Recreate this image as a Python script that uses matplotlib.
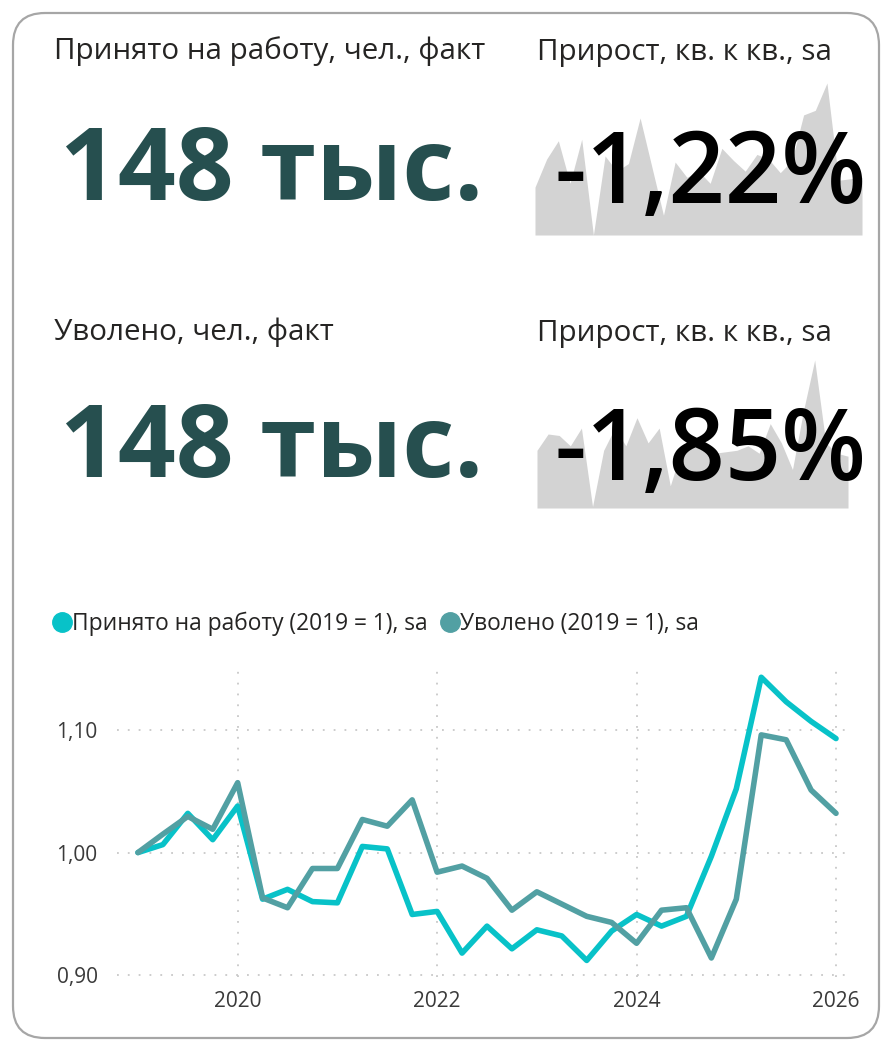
import numpy as np
import matplotlib
matplotlib.use("Agg")
import matplotlib.pyplot as plt
from matplotlib.patches import FancyBboxPatch
from matplotlib.lines import Line2D
from matplotlib.transforms import IdentityTransform

plt.rcParams['font.family'] = ['Open Sans', 'DejaVu Sans']

W, H = 881, 1040

# quarterly index, 2019 = 1
quarters = ['2019Q1', '2019Q2', '2019Q3', '2019Q4', '2020Q1', '2020Q2', '2020Q3', '2020Q4',
            '2021Q1', '2021Q2', '2021Q3', '2021Q4', '2022Q1', '2022Q2', '2022Q3', '2022Q4',
            '2023Q1', '2023Q2', '2023Q3', '2023Q4', '2024Q1', '2024Q2', '2024Q3', '2024Q4',
            '2025Q1', '2025Q2', '2025Q3', '2025Q4', '2026Q1']
hired = [1.000, 1.0065, 1.032, 1.0105, 1.038, 0.962, 0.970, 0.960,
         0.959, 1.005, 1.003, 0.9495, 0.952, 0.918, 0.940, 0.9215,
         0.937, 0.932, 0.912, 0.936, 0.9495, 0.940, 0.948, 0.997,
         1.052, 1.143, 1.123, 1.107, 1.093]
fired = [1.000, 1.015, 1.0295, 1.019, 1.057, 0.963, 0.955, 0.987,
         0.987, 1.027, 1.0215, 1.043, 0.984, 0.989, 0.979, 0.953,
         0.968, 0.958, 0.948, 0.943, 0.926, 0.953, 0.955, 0.914,
         0.962, 1.096, 1.092, 1.051, 1.032]

# sparkline shapes (relative height)
spark_hired = [0.315, 0.50, 0.62, 0.34, 0.63, 0.0, 0.52, 0.42, 0.47, 0.77,
               0.45, 0.13, 0.48, 0.38, 0.42, 0.34, 0.57, 0.49, 0.42, 0.53,
               0.50, 0.41, 0.49, 0.79, 0.82, 1.0, 0.36, 0.37, 0.38]
spark_fired = [0.39, 0.50, 0.49, 0.42, 0.54, 0.01, 0.39, 0.54, 0.42, 0.61,
               0.44, 0.54, 0.15, 0.39, 0.44, 0.40, 0.37, 0.38, 0.39, 0.42,
               0.37, 0.57, 0.44, 0.26, 0.66, 1.0, 0.44, 0.37, 0.35]

kpi_labels = ['Принято на работу, чел., факт', 'Уволено, чел., факт']
kpi_values = ['148 тыс.', '148 тыс.']
kpi_growth = ['-1,22%', '-1,85%']
growth_label = 'Прирост, кв. к кв., sa'
series_names = ['Принято на работу (2019 = 1), sa', 'Уволено (2019 = 1), sa']

c_hired = '#08C2C8'
c_fired = '#52A0A3'
c_big = '#264F4F'
c_text = '#252423'


def fx(x):
    return x / W


def fy(y):
    return 1 - y / H


fig = plt.figure(figsize=(W / 100, H / 100), dpi=100)

# card border
card = FancyBboxPatch((13, 2), 866, 1025, boxstyle="round,pad=0,rounding_size=32",
                      transform=IdentityTransform(), facecolor='white',
                      edgecolor='#A6A6A6', linewidth=1.6, zorder=-10)
fig.patches.append(card)

# sparklines
for spark, box in [(spark_hired, (535, 83, 862, 235)), (spark_fired, (537, 360, 848, 508))]:
    x0, y0, x1, y1 = box
    sax = fig.add_axes([fx(x0), fy(y1), (x1 - x0) / W, (y1 - y0) / H])
    sax.fill_between(np.arange(len(spark)), spark, 0, color='#D3D3D3', lw=0)
    sax.set_xlim(0, len(spark) - 1)
    sax.set_ylim(0, 1)
    sax.axis('off')

# KPI texts
label_base = [59, 340]
big_base = [200, 477]
for i in range(2):
    fig.text(fx(54), fy(label_base[i]), kpi_labels[i], fontsize=21.3, color=c_text, va='baseline')
    fig.text(fx(537), fy(label_base[i] + 1), growth_label, fontsize=21.3, color=c_text, va='baseline')
    fig.text(fx(60), fy(big_base[i]), kpi_values[i], fontsize=73, fontweight='bold',
             color=c_big, va='baseline')
    fig.text(fx(554), fy(big_base[i] + 3), kpi_growth[i], fontsize=71, fontweight='semibold',
             color='black', va='baseline', zorder=5)

# line chart
t = [int(q[:4]) + (int(q[-1]) - 1) / 4 for q in quarters]
ax = fig.add_axes([fx(117), fy(977), (848 - 117) / W, (977 - 665) / H])
ax.plot(t, hired, color=c_hired, lw=4.0, solid_joinstyle='round', solid_capstyle='round', zorder=3)
ax.plot(t, fired, color=c_fired, lw=4.0, solid_joinstyle='round', solid_capstyle='round', zorder=4)
ax.set_xlim(2018.79, 2026.12)
ax.set_ylim(0.8985, 1.153)
ax.set_yticks([0.9, 1.0, 1.1])
ax.set_yticklabels(['0,90', '1,00', '1,10'])
ax.set_xticks([2020, 2022, 2024, 2026])
ax.set_xticklabels(['2020', '2022', '2024', '2026'])
ax.tick_params(length=0, labelsize=15, labelcolor='#3A3A3A')
ax.tick_params(axis='y', pad=14)
ax.tick_params(axis='x', pad=10)
ax.grid(True, color='#C8C8C8', lw=1.3, ls=(0, (1, 5)))
for s in ax.spines.values():
    s.set_visible(False)

handles = [Line2D([], [], ls='', marker='o', markersize=14, color=c_hired),
           Line2D([], [], ls='', marker='o', markersize=14, color=c_fired)]
fig.legend(handles, series_names, loc='center left', bbox_to_anchor=(fx(37), fy(624)),
           ncol=2, frameon=False, fontsize=16.4, handletextpad=-0.15, columnspacing=0.35,
           handlelength=1.2, borderpad=0, labelcolor='#252423')

fig.savefig('out.png', dpi=100)
